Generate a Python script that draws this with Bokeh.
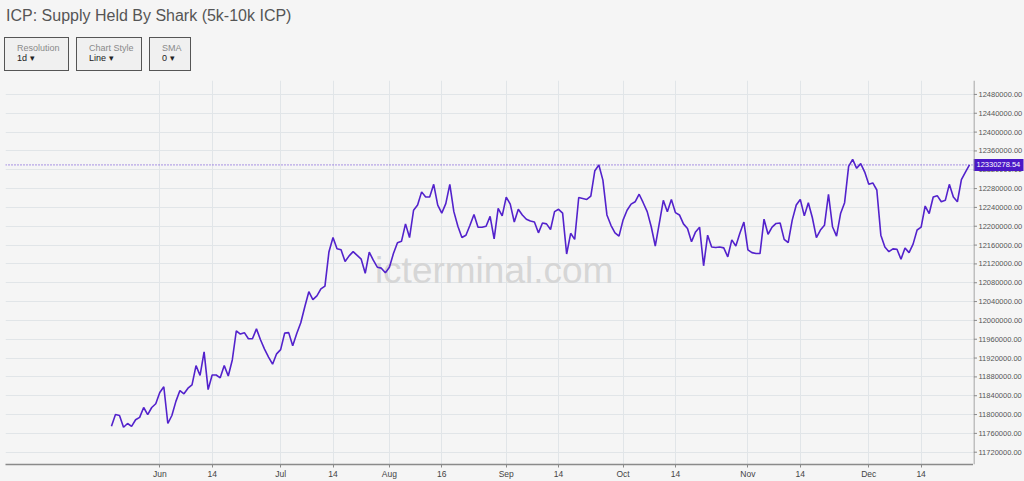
from bokeh.plotting import figure
from bokeh.models import Range1d, FixedTicker, Span, Label, Div
from bokeh.layouts import column, row
from bokeh.core.properties import value
from bokeh.embed import file_html
from bokeh.resources import INLINE

# ---- data ----
values = [
    11775000, 11800000, 11798000, 11773000, 11781000, 11775000, 11789000, 11794000, 11815000, 11800000,
    11815000, 11823000, 11847000, 11859000, 11781000, 11798000, 11828000, 11851000, 11844000, 11856000,
    11863000, 11904000, 11883000, 11933000, 11853000, 11884000, 11884000, 11878000, 11904000, 11882000,
    11916000, 11978000, 11971000, 11974000, 11961000, 11961000, 11982000, 11959000, 11939000, 11922000,
    11907000, 11929000, 11938000, 11973000, 11974000, 11946000, 11972000, 11995000, 12029000, 12061000,
    12044000, 12052000, 12067000, 12073000, 12146000, 12176000, 12152000, 12150000, 12125000, 12137000,
    12146000, 12138000, 12130000, 12100000, 12145000, 12128000, 12113000, 12111000, 12101000, 12113000,
    12142000, 12165000, 12168000, 12205000, 12176000, 12234000, 12245000, 12273000, 12262000, 12262000,
    12289000, 12245000, 12228000, 12248000, 12289000, 12231000, 12200000, 12176000, 12181000, 12202000,
    12225000, 12198000, 12198000, 12200000, 12221000, 12173000, 12238000, 12222000, 12262000, 12247000,
    12209000, 12236000, 12224000, 12215000, 12211000, 12209000, 12186000, 12207000, 12205000, 12193000,
    12231000, 12236000, 12228000, 12141000, 12185000, 12172000, 12261000, 12259000, 12257000, 12264000,
    12318000, 12330000, 12298000, 12224000, 12202000, 12186000, 12179000, 12213000, 12234000, 12247000,
    12252000, 12268000, 12250000, 12231000, 12199000, 12158000, 12206000, 12255000, 12231000, 12257000,
    12229000, 12224000, 12205000, 12195000, 12167000, 12188000, 12198000, 12116000, 12181000, 12156000,
    12155000, 12156000, 12154000, 12135000, 12171000, 12158000, 12185000, 12209000, 12150000, 12144000,
    12142000, 12142000, 12215000, 12183000, 12198000, 12206000, 12207000, 12172000, 12165000, 12213000,
    12245000, 12257000, 12222000, 12250000, 12218000, 12176000, 12192000, 12202000, 12268000, 12199000,
    12179000, 12227000, 12250000, 12327000, 12342000, 12323000, 12333000, 12315000, 12289000, 12292000,
    12277000, 12181000, 12156000, 12146000, 12152000, 12151000, 12130000, 12154000, 12144000, 12162000,
    12192000, 12198000, 12243000, 12227000, 12262000, 12265000, 12252000, 12255000, 12289000, 12262000,
    12252000, 12299000, 12315000, 12330278.54,
]
last_value = 12330278.54

tick_index = [12, 25, 42, 55, 69, 82, 98, 111, 127, 140, 158, 171, 188, 201]
tick_labels = ["Jun", "14", "Jul", "14", "Aug", "16", "Sep", "14", "Oct", "14", "Nov", "14", "Dec", "14"]
y_ticks = list(range(11720000, 12480001, 40000))
y_tick_labels = [f"{t:.2f}" for t in y_ticks]

title_text = "ICP: Supply Held By Shark (5k-10k ICP)"
controls = [("Resolution", "1d", 65), ("Chart Style", "Line", 66), ("SMA", "0", 42)]

BG = "#f5f5f5"
LINE = "#5322cc"
AXIS = "#8a8a8a"
FONT = "Liberation Sans"

# ---- header (title + control boxes) ----
boxes = ""
left = 4
for lab, val, w in controls:
    boxes += (
        f'<div style="position:absolute;left:{left}px;top:37px;width:{w-2}px;height:32px;'
        f'border:1px solid #555;background:#f0f0f0;box-sizing:content-box;">'
        f'<div style="position:absolute;left:12px;top:5px;font-size:9px;line-height:10px;color:#8a8a8a;white-space:nowrap;">{lab}</div>'
        f'<div style="position:absolute;left:12px;top:15px;font-size:9px;line-height:10px;color:#222;white-space:nowrap;">{val} &#9662;</div>'
        f'</div>'
    )
    left += w + 7

header = Div(
    text=(
        f'<div style="position:relative;width:1000px;height:74px;font-family:\'{FONT}\',Arial,sans-serif;">'
        f'<div style="position:absolute;left:6px;top:8px;font-size:16px;line-height:16px;color:#555;white-space:nowrap;">{title_text}</div>'
        f'{boxes}</div>'
    ),
    width=1024, height=74, margin=(0, 0, 0, 0),
)

# ---- main chart ----
H = 407
TOP = 6
BOTTOM = 16
yr = Range1d(11693900, 12509600)

p = figure(
    width=973, height=H,
    x_range=Range1d(-26.3, 214.0), y_range=yr,
    y_axis_location=None, output_backend="svg", toolbar_location=None,
    min_border_left=5, min_border_right=0, min_border_top=TOP, min_border_bottom=BOTTOM,
    background_fill_color=BG, border_fill_color=BG, outline_line_color=None,
    margin=(0, 0, 0, 0),
)

p.line(x=list(range(len(values))), y=values, line_color=LINE, line_width=1.6)

p.xaxis.ticker = FixedTicker(ticks=tick_index)
p.xaxis.major_label_overrides = {t: l for t, l in zip(tick_index, tick_labels)}
p.xaxis.axis_line_color = AXIS
p.xaxis.axis_line_width = 1.5
p.xaxis.major_tick_line_color = AXIS
p.xaxis.major_tick_in = 0
p.xaxis.major_tick_out = 3
p.xaxis.minor_tick_line_color = None
p.xaxis.major_label_standoff = 1
p.xaxis.major_label_text_font = FONT
p.xaxis.major_label_text_font_size = "8.5px"
p.xaxis.major_label_text_color = "#444"

p.xgrid.ticker = FixedTicker(ticks=tick_index)
p.ygrid.ticker = FixedTicker(ticks=y_ticks)
p.xgrid.grid_line_color = "#e1e5e8"
p.ygrid.grid_line_color = "#e1e5e8"

# watermark
p.add_layout(Label(x=95, y=12107000, text="icterminal.com", text_font=FONT,
                   text_font_size="37px", text_color="#d6d6d6", text_align="center",
                   text_baseline="middle", level="underlay"))

# dotted line at the last value
p.add_layout(Span(location=last_value, dimension="width", line_color="#5a2ed0",
                  line_dash="1 2", line_width=1))

# ---- right value scale (shares the y range) ----
s = figure(
    width=51, height=H, x_range=Range1d(0, 51), y_range=yr,
    x_axis_location=None, y_axis_location=None,
    output_backend="svg", toolbar_location=None,
    min_border_left=0, min_border_right=0, min_border_top=TOP, min_border_bottom=BOTTOM,
    background_fill_color=BG, border_fill_color=BG, outline_line_color=None,
    margin=(0, 0, 0, 0),
)
s.xgrid.visible = False
s.ygrid.visible = False
s.add_layout(Span(location=0.5, dimension="height", line_color=AXIS, line_width=1))
s.segment(x0=[0] * len(y_ticks), x1=[3.5] * len(y_ticks), y0=y_ticks, y1=y_ticks,
          line_color=AXIS, line_width=1)
s.text(x=[5] * len(y_ticks), y=y_ticks, text=y_tick_labels, text_font=value(FONT),
       text_font_size=value("7.5px"), text_color="#555", text_baseline="middle")
s.rect(x=[25], y=[last_value], width=[50], height=[12], height_units="screen",
       fill_color="#4b17c7", line_color=None)
s.text(x=[3], y=[last_value], text=[f"{last_value:.2f}"], text_font=value(FONT),
       text_font_size=value("7.5px"), text_color="white", text_baseline="middle")

layout = column(header, row(p, s, spacing=0, margin=(0, 0, 0, 0)), spacing=0, margin=(0, 0, 0, 0))

html = file_html(layout, INLINE)
style = (f"<style>html,body{{margin:0 !important;padding:0 !important;"
         f"background:{BG} !important;overflow:hidden;}}</style></head>")
html = html.replace("</head>", style, 1)
open("out.html", "w").write(html)
